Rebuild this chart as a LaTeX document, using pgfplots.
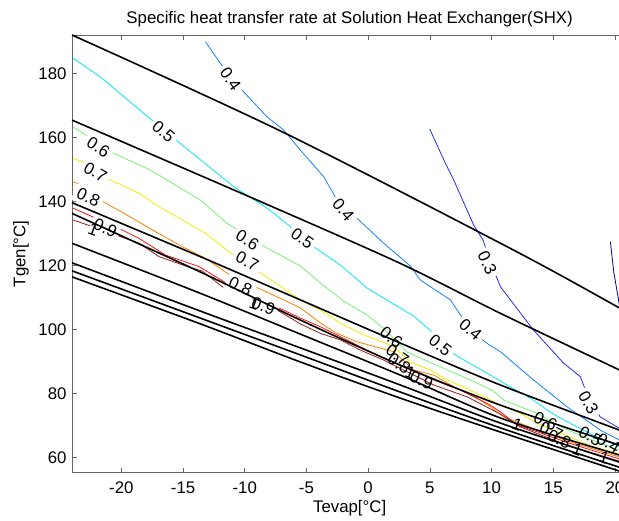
\documentclass[border=0pt]{standalone}
\usepackage{pgfplots}
\pgfplotsset{compat=1.18}
\usepackage{fontspec}
\setmainfont{Liberation Sans}
\definecolor{cA}{RGB}{0,0,160}
\definecolor{cB}{RGB}{40,40,255}
\definecolor{cC}{RGB}{20,130,255}
\definecolor{cD}{RGB}{0,235,235}
\definecolor{cE}{RGB}{120,240,120}
\definecolor{cF}{RGB}{240,240,0}
\definecolor{cG}{RGB}{255,128,0}
\definecolor{cH}{RGB}{245,20,20}
\definecolor{cI}{RGB}{150,30,30}
\begin{document}
\begin{tikzpicture}[font=\fontsize{16.8}{18}\selectfont]
\useasboundingbox (-72pt,-48.3pt) rectangle (547pt,472.7pt);
\begin{axis}[
  at={(0,0)}, anchor=south west,
  scale only axis, width=555.3pt, height=437.7pt,
  xmin=-24, xmax=21, ymin=55.2, ymax=192,
  xtick={-20,-15,...,20}, ytick={60,80,...,180},
  tick align=inside, major tick length=5pt,
  axis line style={black!60, line width=0.6pt},
  tick style={black!60, line width=0.6pt},
  /pgf/number format/assume math mode=true,
  tick label style={font=\fontsize{16.8}{18}\selectfont},
  xticklabel style={anchor=base, yshift=-21.3pt},
  yticklabel style={anchor=east, inner sep=0pt, xshift=-5.3pt},
  title={Specific heat transfer rate at Solution Heat Exchanger(SHX)},
  every axis title/.style={at={(axis description cs:0.5,1)}, anchor=center, yshift=16pt, font=\fontsize{16.8}{18}\selectfont},
  xlabel={Tevap[°C]},
  every axis x label/.style={at={(axis description cs:0.5,0)}, anchor=center, yshift=-35.3pt},
  ylabel={Tgen[°C]},
  every axis y label/.style={at={(axis description cs:0,0.5)}, xshift=-51pt, rotate=90, anchor=center},
  clip=true,
  label/.style={font=\fontsize{16.8}{18}\selectfont, inner sep=0.5pt},
]
% colored contour lines
\addplot[cA, line width=0.8pt] coordinates {(19.63,127.4) (19.9,118) (20.3,109) (20.6,100)};
\addplot[cB, line width=0.8pt] coordinates {(4.99,162.6) (6.26,151.9) (6.93,146.7) (8.55,132.6) (9.31,127.9) (9.91,121.0) (10.72,113.3) (13.39,99.8) (15.82,89.5) (17.2,85.2) (17.61,81.0) (18.79,72.7) (20.33,69.1) (20.6,68.3)};
\addplot[cC, line width=0.8pt] coordinates {(-13.19,189.9) (-11.97,183.1) (-10.35,175.3) (-8.19,166.4) (-6.84,162.3) (-5.49,156.0) (-3.60,147.7) (-2.52,140.4) (-1.03,135.2) (1.26,126.9) (3.42,119.8) (4.23,115.4) (6.67,109.2) (8.29,99.8) (9.64,95.6) (10.72,93.0) (13.39,84.2) (16.12,75.8) (18.82,68.5) (20.36,65.4) (20.6,64.9)};
\addplot[cD, line width=0.8pt] coordinates {(-23.91,184.7) (-21.70,178.9) (-17.38,164.9) (-15.22,158.1) (-10.90,144.6) (-8.19,137.9) (-6.30,132.1) (-4.41,125.8) (-2.25,120.1) (-0.09,112.9) (1.80,108.5) (3.67,104.2) (5.29,98.8) (6.91,92.3) (9.64,86.3) (11.26,82.6) (13.15,78.5) (15.01,73.5) (16.93,69.5) (18.82,65.8) (20.36,63.4) (20.6,63.0)};
\addplot[cE, line width=0.8pt] coordinates {(-23.91,163.3) (-20.62,155.0) (-17.65,149.8) (-13.59,140.4) (-11.43,133.1) (-8.19,125.4) (-5.49,119.8) (-3.87,114.5) (-1.98,108.8) (-0.09,104.5) (1.40,99.8) (3.16,92.9) (5.85,88.3) (8.29,84.2) (10.17,80.7) (10.98,77.9) (12.34,75.8) (13.69,73.75) (15.58,69.6) (17.47,66.4) (20.36,62.2) (20.6,61.9)};
\addplot[cF, line width=0.8pt] coordinates {(-23.91,153.4) (-22.78,151.9) (-21.16,147.2) (-18.56,142.5) (-16.94,138.3) (-15.05,134.2) (-13.17,130.0) (-11.27,124.2) (-8.19,116.3) (-5.49,109.2) (-3.87,106.0) (-2.25,101.9) (-0.63,98.75) (2.07,94.6) (3.42,89.8) (5.04,87.3) (6.40,84.2) (8.55,80.5) (10.45,76.9) (12.34,73.75) (13.69,70.6) (16.32,66.4) (17.9,63.8) (20.36,61.0) (20.6,60.7)};
\addplot[cG, line width=0.8pt] coordinates {(-23.91,146.1) (-22.78,144.6) (-21.70,140.4) (-19.53,135.7) (-17.22,130.5) (-15.05,125.8) (-13.17,122.2) (-11.0,116.4) (-8.57,112.3) (-5.49,106.7) (-3.87,102.0) (-2.52,98.75) (-0.90,96.1) (2.07,93.0) (3.69,87.3) (5.31,85.7) (6.93,82.1) (8.55,79.2) (9.90,75.8) (10.98,72.7) (12.34,70.6) (13.69,68.5) (16.32,64.9) (20.36,60.1) (20.6,59.8)};
\addplot[cH, line width=0.8pt] coordinates {(-23.91,137.9) (-22.35,135.2) (-20.46,132.1) (-18.56,128.4) (-16.41,123.2) (-13.70,119.6) (-11.0,113.3) (-8.57,109.2) (-5.49,103.5) (-3.87,100.8) (-2.25,97.7) (-0.09,93.5) (1.26,91.0) (5.31,84.2) (7.47,81.0) (9.64,76.9) (10.72,74.2) (12.07,70.1) (13.69,68.0) (16.32,64.4) (20.36,59.5) (20.6,59.2)};
\addplot[cI, line width=0.8pt] coordinates {(-23.91,134.2) (-22.35,132.1) (-18.56,126.9) (-16.94,122.7) (-14.79,119.8) (-13.43,118.2) (-11.81,113.3) (-10.46,111.25) (-7.92,107.3) (-5.49,101.7) (-3.87,98.75) (-2.25,96.7) (-0.63,93.5) (1.26,90.4) (5.31,82.6) (8.02,78.9) (10.72,73.5) (12.34,69.5) (16.32,63.5) (20.36,58.8) (20.6,58.5)};
% contour labels
\node[label, fill=white, rotate=-55] at (axis cs:-11.16,178.2) {0.4};
\node[label, fill=white, rotate=-40] at (axis cs:-16.59,161.7) {0.5};
\node[label, fill=white, rotate=-33] at (axis cs:-21.86,157.0) {0.6};
\node[label, fill=white, rotate=-30] at (axis cs:-22.10,149.2) {0.7};
\node[label, fill=white, rotate=-25] at (axis cs:-22.67,141.4) {0.8};
\node[label, fill=white, rotate=-22] at (axis cs:-21.29,131.7) {0.9};
\node[label, rotate=-20] at (axis cs:-22.27,131.0) {1};
\node[label, fill=white, rotate=-32] at (axis cs:-9.79,127.9) {0.6};
\node[label, fill=white, rotate=-35] at (axis cs:-5.33,128.5) {0.5};
\node[label, fill=white, rotate=-50] at (axis cs:-2.01,137.3) {0.4};
\node[label, fill=white, rotate=-28] at (axis cs:-9.79,121.3) {0.7};
\node[label, fill=white, rotate=-25] at (axis cs:-10.35,113.5) {0.8};
\node[label, fill=white, rotate=-20] at (axis cs:-8.49,107.3) {0.9};
\node[label, rotate=-20] at (axis cs:-9.22,107.9) {1};
\node[label, fill=white, rotate=-65] at (axis cs:9.66,120.7) {0.3};
\node[label, fill=white, rotate=-40] at (axis cs:8.29,99.8) {0.4};
\node[label, fill=white, rotate=-38] at (axis cs:5.85,95.1) {0.5};
\node[label, rotate=-38] at (axis cs:1.88,97.6) {0.6};
\node[label, rotate=-35] at (axis cs:2.37,92.0) {0.7};
\node[label, rotate=-35] at (axis cs:2.53,89.2) {0.8};
\node[label, rotate=-20] at (axis cs:3.42,86.4) {1};
\node[label, rotate=-25] at (axis cs:4.31,84.2) {0.9};
\node[label, fill=white, rotate=-60] at (axis cs:17.85,77.0) {0.3};
\node[label, rotate=-20] at (axis cs:12.09,70.1) {1};
\node[label, rotate=-25] at (axis cs:14.36,71.4) {0.6};
\node[label, rotate=-25] at (axis cs:14.85,68.2) {0.7};
\node[label, rotate=-25] at (axis cs:15.5,65.7) {0.8};
\node[label, rotate=-20] at (axis cs:16.96,62.3) {1};
\node[label, rotate=-30] at (axis cs:18.0,66.7) {0.5};
\node[label, rotate=-30] at (axis cs:19.47,64.5) {0.4};
\node[label, rotate=-20] at (axis cs:19.14,59.8) {1};
% black lines
\addplot[black, line width=1.6pt, smooth] coordinates {(-24,192.0) (-6.97,161.75) (11.77,124.8) (20.36,106.7) (21,105.3)};
\addplot[black, line width=1.6pt, smooth] coordinates {(-24,165.4) (-9.0,140.4) (2.61,120.6) (10.72,105.0) (20.36,87.3) (21,86.0)};
\addplot[black, line width=1.6pt, smooth] coordinates {(-24,139.6) (-13.59,122.7) (-5.49,109.2) (2.61,95.7) (10.72,82.6) (20.36,68.5) (21,67.6)};
\addplot[black, line width=1.6pt, smooth] coordinates {(-24,136.25) (-13.59,117.9) (-5.49,102.9) (2.61,88.8) (10.72,76.3) (20.36,63.8) (21,62.9)};
\addplot[black, line width=1.6pt, smooth] coordinates {(-24,126.9) (-13.59,111.25) (-5.49,98.5) (2.61,85.7) (10.72,72.3) (20.36,60.7) (21,59.8)};
\addplot[black, line width=1.6pt, smooth] coordinates {(-24,120.8) (-13.59,105.7) (-5.49,94.2) (2.61,82.6) (10.72,70.7) (20.36,58.5) (21,57.75)};
\addplot[black, line width=1.6pt, smooth] coordinates {(-24,118.3) (-13.59,103.5) (-5.49,92.0) (2.61,80.4) (10.72,69.2) (20.36,56.9) (21,56.2)};
\addplot[black, line width=1.6pt, smooth] coordinates {(-24,116.4) (-13.59,101.7) (-5.49,89.8) (2.61,78.5) (10.72,67.9) (20.36,55.7) (21,55.0)};
\end{axis}
\end{tikzpicture}
\end{document}
